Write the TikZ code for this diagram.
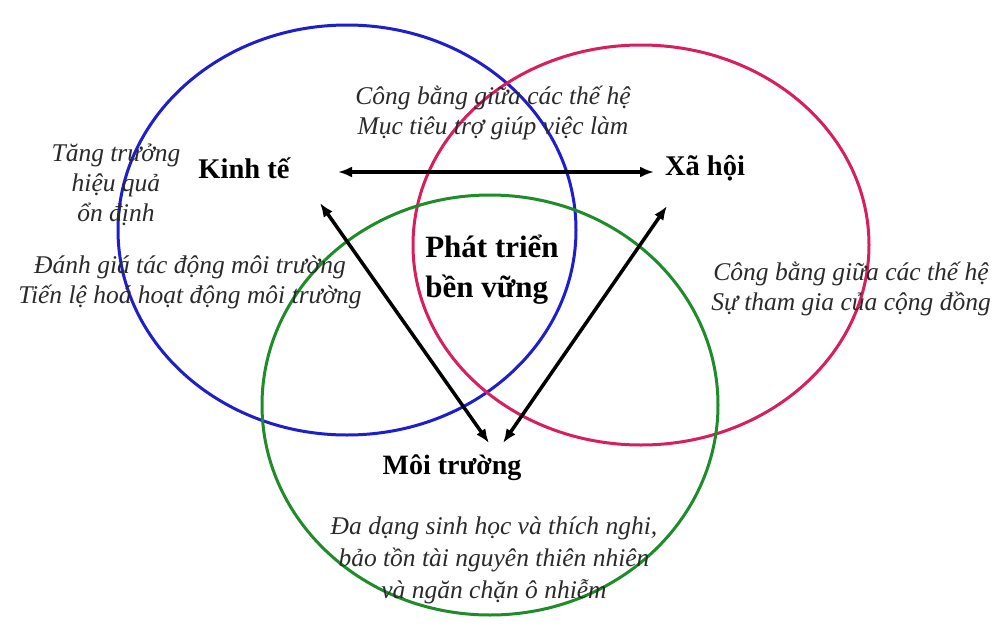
\documentclass[tikz,border=0pt]{standalone}
\usepackage{fontspec}
\setmainfont{Liberation Serif}
\usetikzlibrary{arrows.meta}
\definecolor{cblue}{HTML}{1E1ECC}
\definecolor{cpink}{HTML}{D81E5B}
\definecolor{cgreen}{HTML}{1E8C28}
\definecolor{ctext}{HTML}{2A2A2A}
\begin{document}
\begin{tikzpicture}[x=1pt,y=-1pt,
  ring/.style={line width=3pt},
  biglabel/.style={font=\fontsize{28.5}{30}\selectfont\bfseries, text=black, inner sep=0pt},
  note/.style={font=\fontsize{25.5}{30}\selectfont\itshape, text=ctext, align=center, inner sep=0pt},
  link/.style={line width=3.5pt, {Latex[length=14pt,width=11pt]}-{Latex[length=14pt,width=11pt]}}
]
\useasboundingbox (0,0) rectangle (994,627);
\fill[white] (0,0) rectangle (994,627);
% circles
\draw[ring, cblue] (347,230) ellipse [x radius=229, y radius=205];
\draw[ring, cpink] (641,245) ellipse [x radius=228, y radius=200];
\draw[ring, cgreen] (490,405) ellipse [x radius=228, y radius=210];
% labels
\node[biglabel] (kt) at (244,168) {Kinh tế};
\node[biglabel] (xh) at (705,168) {Xã hội};
\node[biglabel, font=\fontsize{28}{30}\selectfont\bfseries] (mt) at (452,468) {Môi trường};
\node[biglabel, align=left, font=\fontsize{31}{40}\selectfont\bfseries] (pt) at (492,270) {Phát triển\\bền vững};
% notes
\node[note] (n1) at (116,185) {Tăng trưởng\\hiệu quả\\ổn định};
\node[note] (n2) at (190,282) {Đánh giá tác động môi trường\\Tiến lệ hoá hoạt động môi trường};
\node[note] (n3) at (493,113) {Công bằng giữa các thế hệ\\Mục tiêu trợ giúp việc làm};
\node[note] (n4) at (851,289) {Công bằng giữa các thế hệ\\Sự tham gia của cộng đồng};
\node[note, font=\fontsize{25.5}{32}\selectfont\itshape] (n5) at (494,560) {Đa dạng sinh học và thích nghi,\\bảo tồn tài nguyên thiên nhiên\\và ngăn chặn ô nhiễm};
% arrow endpoints
\coordinate (a1) at (338,172);
\coordinate (a2) at (654,172);
\coordinate (b1) at (320,203);
\coordinate (b2) at (489,443);
\coordinate (c1) at (667,206);
\coordinate (c2) at (503,443);
\draw[link] (a1) -- (a2);
\draw[link] (b1) -- (b2);
\draw[link] (c1) -- (c2);
\end{tikzpicture}
\end{document}
